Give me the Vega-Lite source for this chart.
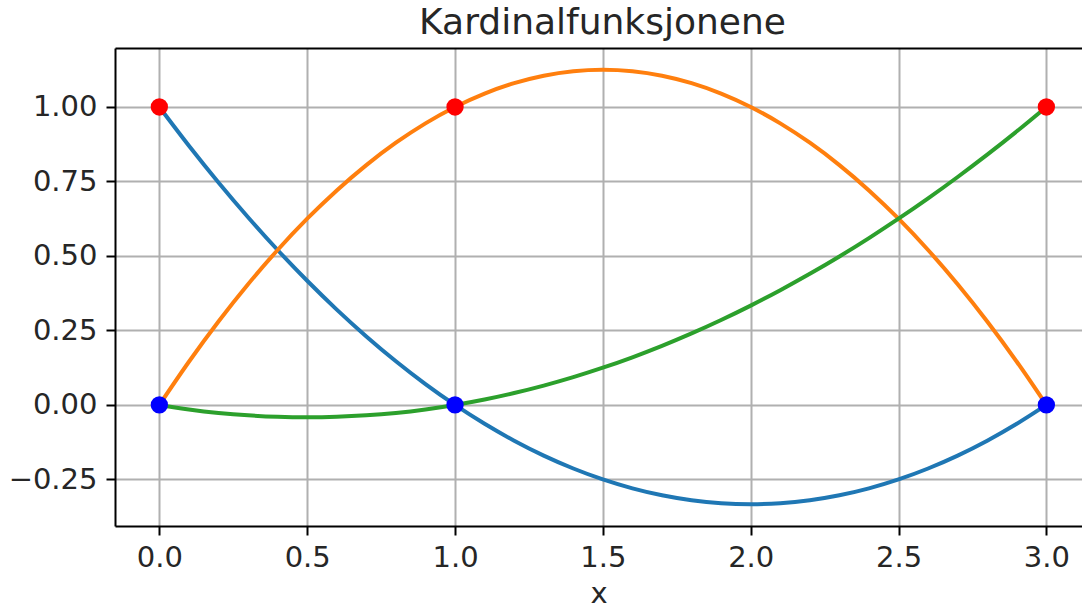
{
  "$schema": "https://vega.github.io/schema/vega-lite/v6.json",
  "autosize": "none",
  "width": 967,
  "height": 478,
  "padding": {"left": 115, "top": 48, "right": 0, "bottom": 83},
  "background": "white",
  "config": {
    "font": "DejaVu Sans",
    "view": {"stroke": null},
    "axis": {
      "domain": true,
      "domainColor": "#000000",
      "domainWidth": 2,
      "grid": true,
      "gridColor": "#b0b0b0",
      "gridWidth": 2,
      "tickColor": "#000000",
      "tickWidth": 2,
      "tickSize": 9,
      "labelFont": "DejaVu Sans",
      "labelFontSize": 29,
      "labelColor": "#262626",
      "titleFont": "DejaVu Sans",
      "titleFontSize": 29,
      "titleFontWeight": "normal",
      "titleColor": "#262626"
    },
    "title": {"font": "DejaVu Sans", "fontSize": 36, "fontWeight": "normal", "color": "#262626", "offset": 6}
  },
  "title": {"text": "Kardinalfunksjonene", "anchor": "middle", "dx": 4},
  "datasets": {
    "curves": [
      {"x": 0.0, "l0": 1.0, "l1": 0.0, "l2": 0.0},
      {"x": 0.1, "l0": 0.87, "l1": 0.145, "l2": -0.015},
      {"x": 0.2, "l0": 0.7467, "l1": 0.28, "l2": -0.0267},
      {"x": 0.3, "l0": 0.63, "l1": 0.405, "l2": -0.035},
      {"x": 0.4, "l0": 0.52, "l1": 0.52, "l2": -0.04},
      {"x": 0.5, "l0": 0.4167, "l1": 0.625, "l2": -0.0417},
      {"x": 0.6, "l0": 0.32, "l1": 0.72, "l2": -0.04},
      {"x": 0.7, "l0": 0.23, "l1": 0.805, "l2": -0.035},
      {"x": 0.8, "l0": 0.1467, "l1": 0.88, "l2": -0.0267},
      {"x": 0.9, "l0": 0.07, "l1": 0.945, "l2": -0.015},
      {"x": 1.0, "l0": 0.0, "l1": 1.0, "l2": 0.0},
      {"x": 1.1, "l0": -0.0633, "l1": 1.045, "l2": 0.0183},
      {"x": 1.2, "l0": -0.12, "l1": 1.08, "l2": 0.04},
      {"x": 1.3, "l0": -0.17, "l1": 1.105, "l2": 0.065},
      {"x": 1.4, "l0": -0.2133, "l1": 1.12, "l2": 0.0933},
      {"x": 1.5, "l0": -0.25, "l1": 1.125, "l2": 0.125},
      {"x": 1.6, "l0": -0.28, "l1": 1.12, "l2": 0.16},
      {"x": 1.7, "l0": -0.3033, "l1": 1.105, "l2": 0.1983},
      {"x": 1.8, "l0": -0.32, "l1": 1.08, "l2": 0.24},
      {"x": 1.9, "l0": -0.33, "l1": 1.045, "l2": 0.285},
      {"x": 2.0, "l0": -0.3333, "l1": 1.0, "l2": 0.3333},
      {"x": 2.1, "l0": -0.33, "l1": 0.945, "l2": 0.385},
      {"x": 2.2, "l0": -0.32, "l1": 0.88, "l2": 0.44},
      {"x": 2.3, "l0": -0.3033, "l1": 0.805, "l2": 0.4983},
      {"x": 2.4, "l0": -0.28, "l1": 0.72, "l2": 0.56},
      {"x": 2.5, "l0": -0.25, "l1": 0.625, "l2": 0.625},
      {"x": 2.6, "l0": -0.2133, "l1": 0.52, "l2": 0.6933},
      {"x": 2.7, "l0": -0.17, "l1": 0.405, "l2": 0.765},
      {"x": 2.8, "l0": -0.12, "l1": 0.28, "l2": 0.84},
      {"x": 2.9, "l0": -0.0633, "l1": 0.145, "l2": 0.9183},
      {"x": 3.0, "l0": 0.0, "l1": 0.0, "l2": 1.0}
    ],
    "nodes": [
      {"x": 0, "y": 1},
      {"x": 1, "y": 1},
      {"x": 3, "y": 1},
      {"x": 0, "y": 0},
      {"x": 1, "y": 0},
      {"x": 3, "y": 0}
    ]
  },
  "resolve": {"axis": {"x": "independent"}},
  "layer": [
    {
      "data": {"name": "curves"},
      "transform": [{"fold": ["l0", "l1", "l2"], "as": ["funksjon", "y"]}],
      "mark": {"type": "line", "strokeWidth": 4, "interpolate": "monotone", "clip": true},
      "encoding": {
        "x": {
          "field": "x", "type": "quantitative",
          "scale": {"domain": [-0.15, 3.1205], "nice": false, "zero": false},
          "axis": {"title": "x", "values": [0, 0.5, 1, 1.5, 2, 2.5, 3], "format": ".1f", "labelPadding": 8, "titlePadding": 7}
        },
        "y": {
          "field": "y", "type": "quantitative",
          "scale": {"domain": [-0.4063, 1.1979], "nice": false, "zero": false},
          "axis": {"title": null, "values": [-0.25, 0, 0.25, 0.5, 0.75, 1], "format": ".2f", "labelPadding": 9}
        },
        "color": {
          "field": "funksjon", "type": "nominal",
          "scale": {"domain": ["l0", "l1", "l2"], "range": ["#1f77b4", "#ff7f0e", "#2ca02c"]},
          "legend": null
        },
        "order": {"field": "x", "type": "quantitative"}
      }
    },
    {
      "data": {"name": "nodes"},
      "transform": [{"filter": "datum.y == 1"}],
      "mark": {"type": "circle", "size": 300, "color": "#ff0000", "opacity": 1},
      "encoding": {
        "x": {"field": "x", "type": "quantitative",
          "axis": {"orient": "top", "title": null, "labels": false, "ticks": false, "grid": false, "domain": true}},
        "y": {"field": "y", "type": "quantitative"}
      }
    },
    {
      "data": {"name": "nodes"},
      "transform": [{"filter": "datum.y == 0"}],
      "mark": {"type": "circle", "size": 300, "color": "#0000ff", "opacity": 1},
      "encoding": {
        "x": {"field": "x", "type": "quantitative", "axis": null},
        "y": {"field": "y", "type": "quantitative"}
      }
    }
  ]
}
